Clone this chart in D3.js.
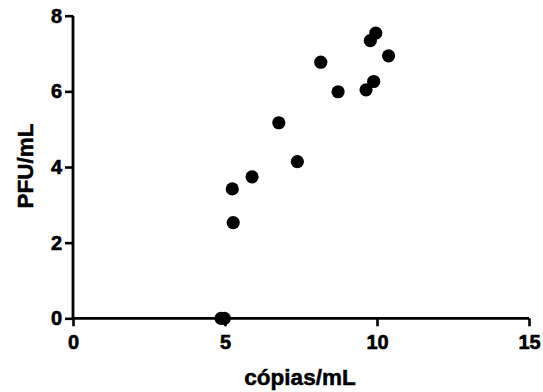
<!DOCTYPE html>
<html>
<head>
<meta charset="utf-8">
<script src="https://cdn.jsdelivr.net/npm/d3@7"></script>
<style>
  body { margin: 0; background: #fff; }
  svg text { font-family: "Liberation Sans", Arial, sans-serif; font-weight: bold; fill: #000; stroke: #000; stroke-width: 0.5px; }
</style>
</head>
<body>
<div id="chart"></div>
<script>
const w = 543,
      h = 392;
// values
const copias = [4.87, 4.98, 5.24, 5.27, 5.89, 6.77, 7.38, 8.15, 8.72, 9.64, 9.89, 9.78, 9.96, 10.38];
const pfu    = [0, 0, 3.42, 2.53, 3.74, 5.17, 4.14, 6.77, 5.99, 6.04, 6.26, 7.34, 7.54, 6.94];
const xTicks = [0, 5, 10, 15],
      yTicks = [0, 2, 4, 6, 8];
const xTitle = "cópias/mL",
      yTitle = "PFU/mL";

const margin = {left: 73, right: 14, top: 15.7, bottom: 73.7};

const svg = d3.select('#chart').append("svg")
              .attr("width", w)
              .attr("height", h);

const x = d3.scaleLinear().domain([0, 15]).range([margin.left, w - margin.right]);
const y = d3.scaleLinear().domain([0, 8]).range([h - margin.bottom, margin.top]);

const xAxis = d3.axisBottom(x).tickValues(xTicks).tickSize(8).tickPadding(9).tickFormat(d3.format("d"));
const yAxis = d3.axisLeft(y).tickValues(yTicks).tickSize(8).tickPadding(3).tickFormat(d3.format("d"));

const gx = svg.append("g").attr("transform", "translate(0," + y(0) + ")").call(xAxis);
const gy = svg.append("g").attr("transform", "translate(" + x(0) + ",0)").call(yAxis);

[gx, gy].forEach(g => {
    g.attr("font-family", null).attr("font-size", null);
    g.select(".domain").attr("stroke", "#000").attr("stroke-width", 2.8);
    g.selectAll(".tick line").attr("stroke", "#000").attr("stroke-width", 2.6);
    g.selectAll(".tick text")
     .style("font-size", "20px")
     .style("font-weight", "bold")
     .style("font-family", '"Liberation Sans", Arial, sans-serif')
     .style("stroke", "#000")
     .style("stroke-width", "0.6px")
     .attr("fill", "#000");
});
// plain lines for the axes, no end caps
gx.select(".domain").attr("d", "M" + x(0) + ",0H" + x(15));
gy.select(".domain").attr("d", "M0," + y(0) + "V" + y(8));

svg.append("text")
   .attr("x", 300).attr("y", 385)
   .attr("text-anchor", "middle")
   .style("font-size", "22.5px")
   .text(xTitle);

svg.append("text")
   .attr("transform", "translate(33," + 166 + ") rotate(-90)")
   .attr("text-anchor", "middle")
   .style("font-size", "22.5px")
   .text(yTitle);

svg.append("g").selectAll("circle")
   .data(copias.map((c, i) => [c, pfu[i]]))
   .enter()
   .append("circle")
   .attr("cx", d => x(d[0]))
   .attr("cy", d => y(d[1]))
   .attr("r", 6.6)
   .attr("fill", "#000");
</script>
</body>
</html>
